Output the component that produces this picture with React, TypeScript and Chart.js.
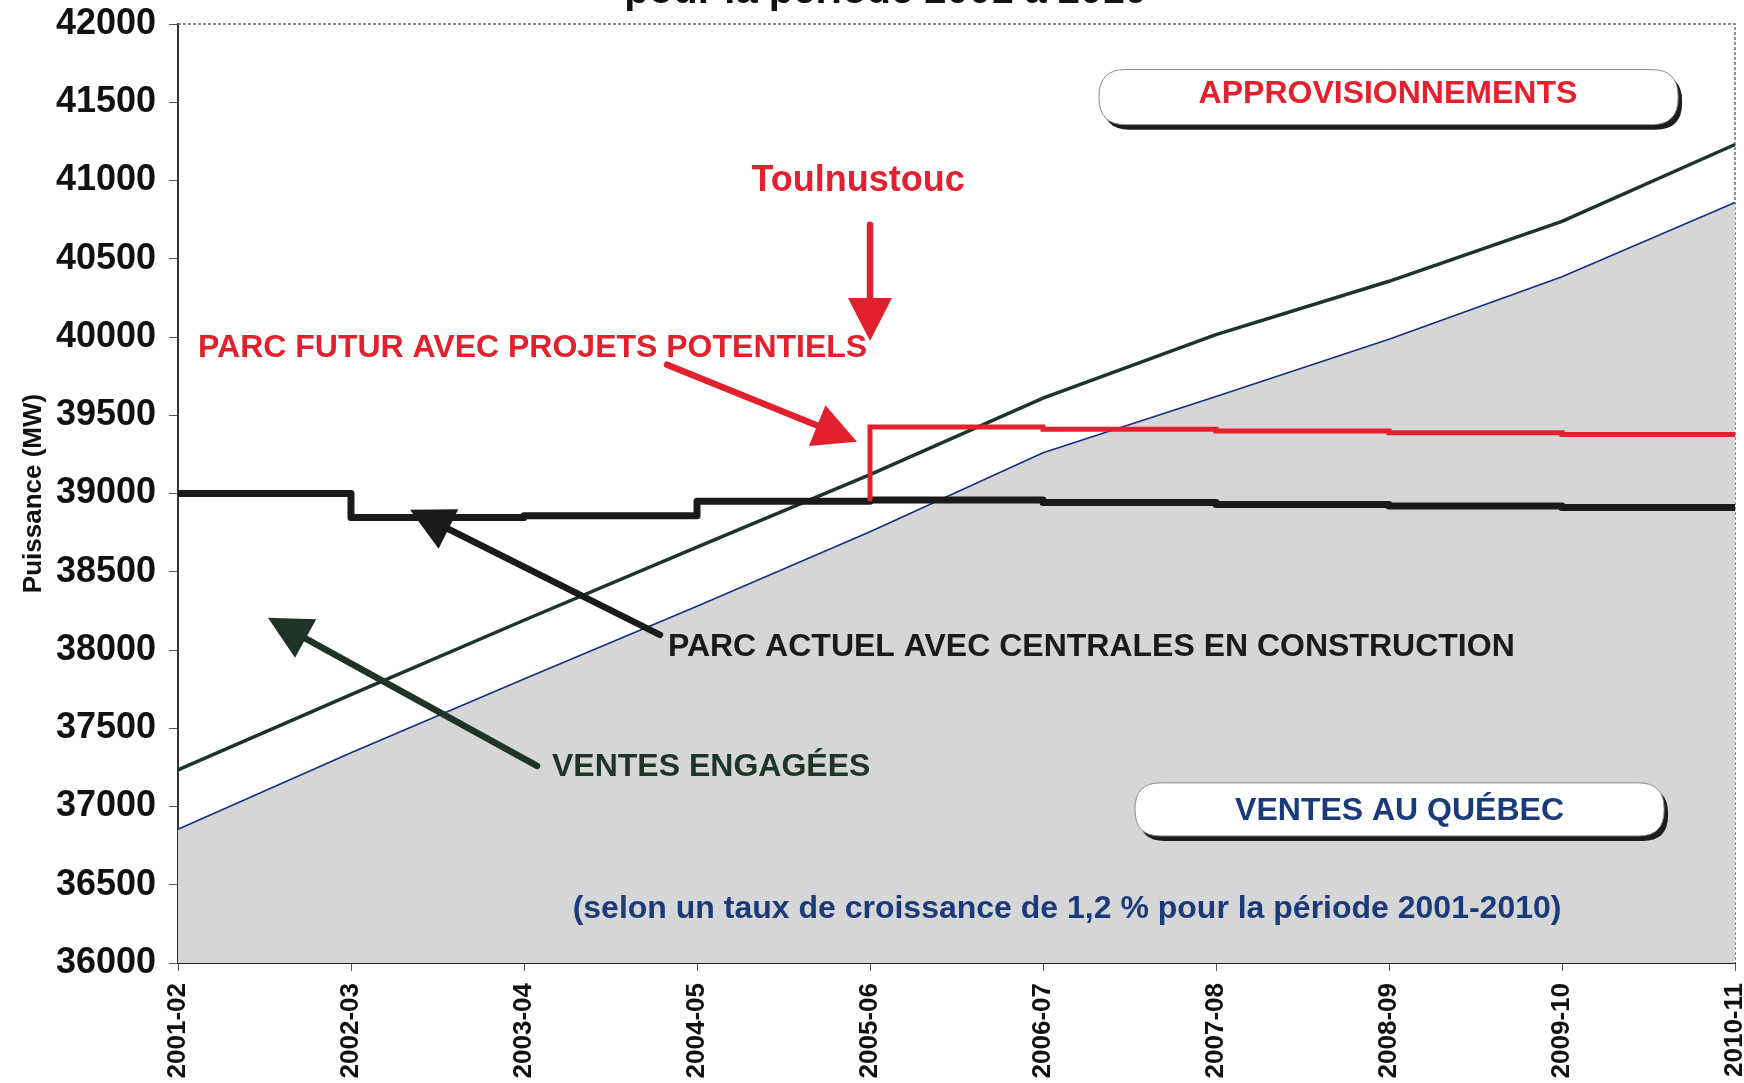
import { useEffect, useRef } from 'react';
import { Chart, registerables } from 'chart.js';

Chart.register(...registerables);

// ---------- data ----------
const categories = ['2001-02', '2002-03', '2003-04', '2004-05', '2005-06', '2006-07', '2007-08', '2008-09', '2009-10', '2010-11'];
const ventesQuebec = [36855, 37344, 37815, 38280, 38756, 39260, 39620, 39985, 40385, 40860];
const ventesEngagees = [37234, 37715, 38190, 38658, 39120, 39610, 40015, 40356, 40739, 41230];
// stepped 'after': the segment ending at point i is drawn at value i
const parcActuel = [39000, 39000, 38846, 38858, 38950, 38958, 38943, 38930, 38920, 38910];
const parcFutur = [null, null, null, null, 38950, 39425, 39410, 39399, 39388, 39377];
const yMin = 36000;
const yMax = 42000;
const yStep = 500;

const titleText = 'pour la période 2001 à 2010';
const yAxisTitle = 'Puissance (MW)';

const FONT = '"Liberation Sans", Arial, Helvetica, sans-serif';
const RED = '#e3202d';
const BLACK = '#1a1a1a';
const GREEN = '#1e3428';
const NAVY = '#1b3a7a';

type Pt = [number, number]; // [category index, MW value]

const pills: { a: Pt; b: Pt; text: string; color: string; c: Pt }[] = [
  { a: [5.324, 41709], b: [8.671, 41357], text: 'APPROVISIONNEMENTS', color: RED, c: [6.994, 41550] },
  { a: [5.532, 37151], b: [8.59, 36812], text: 'VENTES AU QUÉBEC', color: NAVY, c: [7.061, 36972] },
];

const labels: { p: Pt; text: string; color: string; size: number; align: CanvasTextAlign }[] = [
  { p: [3.931, 40995], text: 'Toulnustouc', color: RED, size: 36, align: 'center' },
  { p: [0.116, 39928], text: 'PARC FUTUR AVEC PROJETS POTENTIELS', color: RED, size: 32, align: 'left' },
  { p: [2.832, 38018], text: 'PARC ACTUEL AVEC CENTRALES EN CONSTRUCTION', color: BLACK, size: 32, align: 'left' },
  { p: [2.162, 37250], text: 'VENTES ENGAGÉES', color: GREEN, size: 32, align: 'left' },
  { p: [5.139, 36345], text: '(selon un taux de croissance de 1,2 % pour la période 2001-2010)', color: NAVY, size: 32, align: 'center' },
];

const arrows: { from: Pt; to: Pt; color: string }[] = [
  { from: [4.0, 40718], to: [4.0, 39975], color: RED },
  { from: [2.827, 39823], to: [3.925, 39331], color: RED },
  { from: [2.786, 38097], to: [1.341, 38896], color: BLACK },
  { from: [2.075, 37260], to: [0.52, 38206], color: GREEN },
];

function roundRectPath(ctx: CanvasRenderingContext2D, x: number, y: number, w: number, h: number, r: number) {
  ctx.beginPath();
  ctx.moveTo(x + r, y);
  ctx.lineTo(x + w - r, y);
  ctx.quadraticCurveTo(x + w, y, x + w, y + r);
  ctx.lineTo(x + w, y + h - r);
  ctx.quadraticCurveTo(x + w, y + h, x + w - r, y + h);
  ctx.lineTo(x + r, y + h);
  ctx.quadraticCurveTo(x, y + h, x, y + h - r);
  ctx.lineTo(x, y + r);
  ctx.quadraticCurveTo(x, y, x + r, y);
  ctx.closePath();
}

function drawArrow(ctx: CanvasRenderingContext2D, x1: number, y1: number, x2: number, y2: number, color: string) {
  const headLen = 43;
  const headHalf = 22;
  const ang = Math.atan2(y2 - y1, x2 - x1);
  const c = Math.cos(ang);
  const s = Math.sin(ang);
  const bx = x2 - headLen * c;
  const by = y2 - headLen * s;
  ctx.save();
  ctx.strokeStyle = color;
  ctx.fillStyle = color;
  ctx.lineWidth = 6.5;
  ctx.lineCap = 'round';
  ctx.beginPath();
  ctx.moveTo(x1, y1);
  ctx.lineTo(bx + 4 * c, by + 4 * s);
  ctx.stroke();
  ctx.beginPath();
  ctx.moveTo(x2, y2);
  ctx.lineTo(bx - headHalf * s, by + headHalf * c);
  ctx.lineTo(bx + headHalf * s, by - headHalf * c);
  ctx.closePath();
  ctx.fill();
  ctx.restore();
}

const annotationPlugin = {
  id: 'annotations',
  beforeDatasetsDraw(chart: any) {
    const { ctx, chartArea } = chart;
    ctx.save();
    ctx.strokeStyle = '#6a6a6a';
    ctx.lineWidth = 1.5;
    ctx.setLineDash([3, 2]);
    ctx.beginPath();
    ctx.moveTo(chartArea.left, chartArea.top);
    ctx.lineTo(chartArea.right, chartArea.top);
    ctx.lineTo(chartArea.right, chartArea.bottom);
    ctx.stroke();
    ctx.restore();
  },
  afterDatasetsDraw(chart: any) {
    const { ctx } = chart;
    const xs = chart.scales.x;
    const ys = chart.scales.y;
    const X = (i: number) => xs.getPixelForValue(i);
    const Y = (v: number) => ys.getPixelForValue(v);

    ctx.save();
    // pills
    for (const p of pills) {
      const x = X(p.a[0]);
      const y = Y(p.a[1]);
      const w = X(p.b[0]) - x;
      const h = Y(p.b[1]) - y;
      const r = h * 0.48;
      ctx.fillStyle = '#1c1c1c';
      roundRectPath(ctx, x + 4, y + 5, w, h, r);
      ctx.fill();
      ctx.fillStyle = '#ffffff';
      roundRectPath(ctx, x, y, w, h, r);
      ctx.fill();
      ctx.strokeStyle = '#8a8a8a';
      ctx.lineWidth = 1;
      ctx.stroke();
      ctx.fillStyle = p.color;
      ctx.font = `bold 32px ${FONT}`;
      ctx.textAlign = 'center';
      ctx.textBaseline = 'middle';
      ctx.fillText(p.text, X(p.c[0]), Y(p.c[1]));
    }
    // labels
    for (const l of labels) {
      ctx.fillStyle = l.color;
      ctx.font = `bold ${l.size}px ${FONT}`;
      ctx.textAlign = l.align;
      ctx.textBaseline = 'middle';
      ctx.fillText(l.text, X(l.p[0]), Y(l.p[1]));
    }
    // arrows
    for (const a of arrows) {
      drawArrow(ctx, X(a.from[0]), Y(a.from[1]), X(a.to[0]), Y(a.to[1]), a.color);
    }
    // partially visible title
    ctx.fillStyle = '#111111';
    ctx.font = `bold 40px ${FONT}`;
    ctx.textAlign = 'center';
    ctx.textBaseline = 'alphabetic';
    ctx.fillText(titleText, X(4.09), 3);
    ctx.restore();
  },
};

export default function App() {
  const ref = useRef<HTMLCanvasElement | null>(null);

  useEffect(() => {
    if (!ref.current) return;
    const chart = new Chart(ref.current, {
      type: 'line',
      data: {
        labels: categories,
        datasets: [
          {
            label: 'Parc futur avec projets potentiels',
            data: parcFutur,
            borderColor: RED,
            borderWidth: 5,
            stepped: 'after',
            pointRadius: 0,
            fill: false,
            order: 1,
          },
          {
            label: 'Parc actuel avec centrales en construction',
            data: parcActuel,
            borderColor: BLACK,
            borderWidth: 7,
            stepped: 'after',
            pointRadius: 0,
            fill: false,
            borderJoinStyle: 'round',
            order: 2,
          },
          {
            label: 'Ventes engagées',
            data: ventesEngagees,
            borderColor: GREEN,
            borderWidth: 3.5,
            pointRadius: 0,
            tension: 0,
            fill: false,
            order: 3,
          },
          {
            label: 'Ventes au Québec',
            data: ventesQuebec,
            borderColor: '#13307e',
            borderWidth: 1.6,
            backgroundColor: '#d6d6d6',
            pointRadius: 0,
            tension: 0,
            fill: 'start',
            order: 4,
          },
        ],
      },
      options: {
        responsive: false,
        animation: false,
        events: [],
        layout: { padding: { top: 24, right: 9, left: 0, bottom: 0 } },
        plugins: {
          legend: { display: false },
          tooltip: { enabled: false },
          title: { display: false },
        },
        scales: {
          x: {
            type: 'category',
            offset: false,
            grid: { display: true, drawOnChartArea: false, drawTicks: true, tickLength: 8, color: '#555' },
            border: { display: true, color: '#222', width: 2 },
            ticks: {
              autoSkip: false,
              maxRotation: 90,
              minRotation: 90,
              padding: 12,
              color: '#111',
              font: { family: FONT, size: 26, weight: 'bold' },
            },
            afterFit: (s: any) => {
              s.height = 120;
              s.paddingLeft = 0;
              s.paddingRight = 0;
            },
          },
          y: {
            min: yMin,
            max: yMax,
            grid: { display: true, drawOnChartArea: false, drawTicks: true, tickLength: 9, color: '#555' },
            border: { display: true, color: '#333', width: 2, dash: [2, 1] },
            ticks: {
              stepSize: yStep,
              padding: 13,
              color: '#111',
              font: { family: FONT, size: 36, weight: 'bold' },
              callback: (v: any) => String(v),
            },
            title: {
              display: true,
              text: yAxisTitle,
              color: '#111',
              font: { family: FONT, size: 26, weight: 'bold' },
              padding: { top: 18, bottom: 0 },
            },
            afterFit: (s: any) => {
              s.width = 178;
              s.paddingTop = 0;
              s.paddingBottom = 0;
            },
          },
        },
      },
      plugins: [annotationPlugin],
    } as any);
    return () => chart.destroy();
  }, []);

  return (
    <div style={{ position: 'absolute', left: 0, top: 0, width: 1744, height: 1083, background: '#ffffff' }}>
      <canvas ref={ref} width={1744} height={1083} style={{ display: 'block' }} />
    </div>
  );
}
